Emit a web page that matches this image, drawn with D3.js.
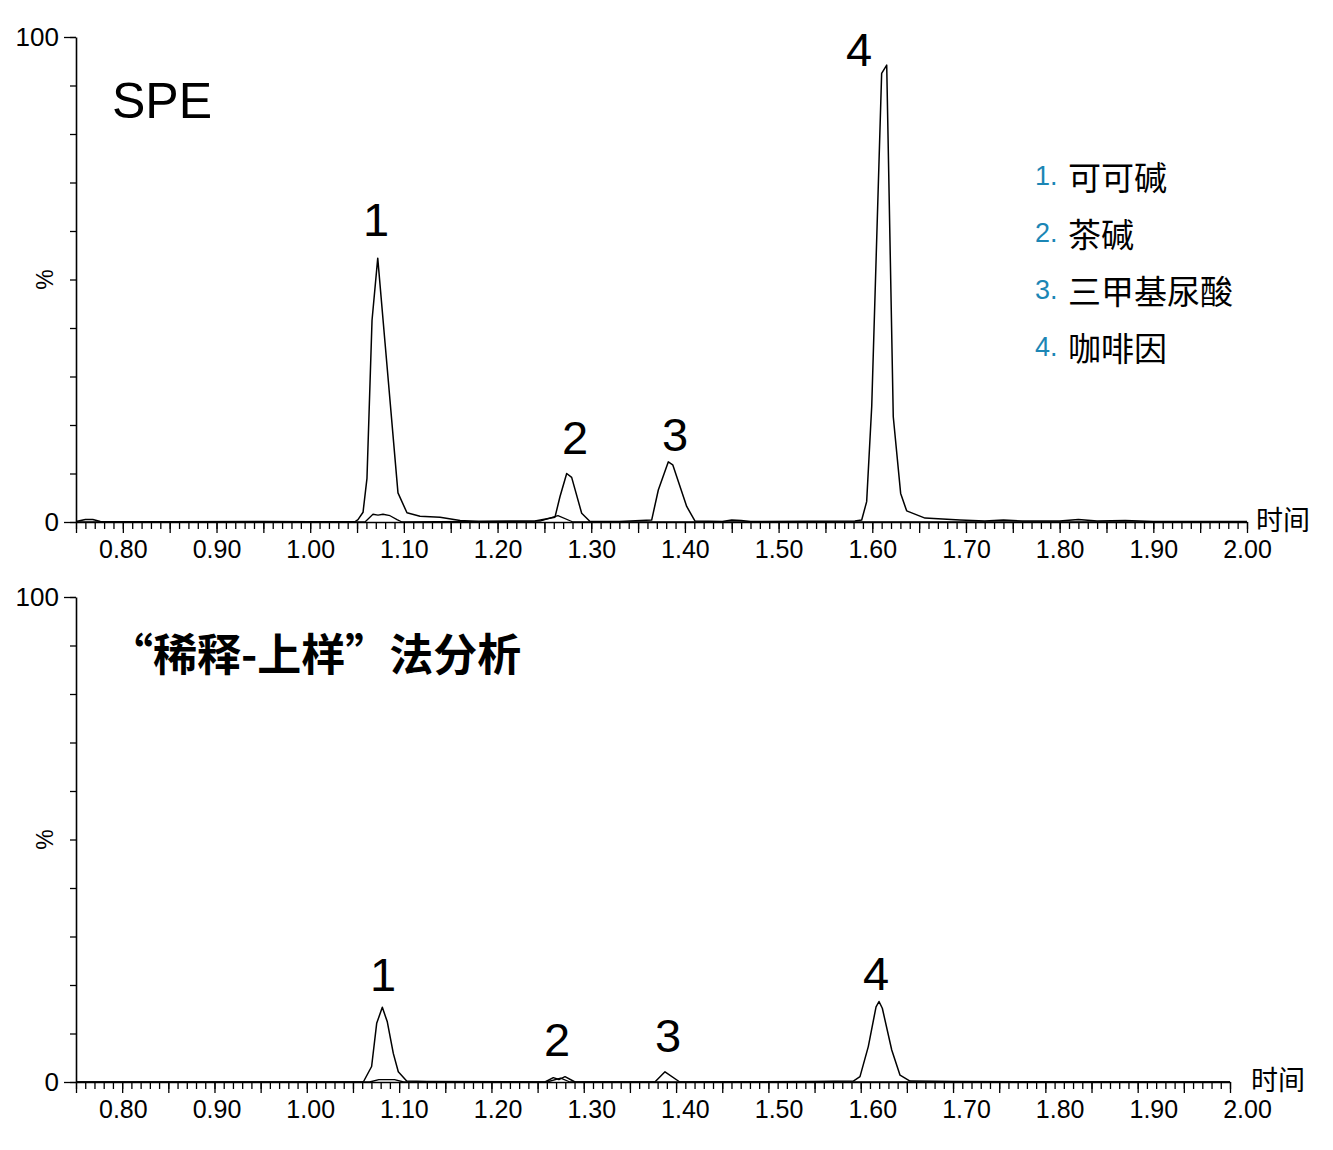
<!DOCTYPE html>
<html><head><meta charset="utf-8">
<script src="https://cdn.jsdelivr.net/npm/d3@7"></script>
<style>
html,body{margin:0;padding:0;background:#fff;}
svg{display:block;}
</style></head>
<body><svg id="c" width="1333" height="1150"></svg>
<script>
// ---------- data ----------
const timeDomain = [0.75, 2.00];
const tickLabelValues = [0.80,0.90,1.00,1.10,1.20,1.30,1.40,1.50,1.60,1.70,1.80,1.90,2.00];
const tickLabels = ["0.80","0.90","1.00","1.10","1.20","1.30","1.40","1.50","1.60","1.70","1.80","1.90","2.00"];
const yTickLabels = ["0","100"];
const yAxisTitle = "%";
const xAxisTitle = "时间";
const panelTitles = ["SPE", "“稀释-上样”法分析"];
const legendNumbers = ["1.","2.","3.","4."];
const legendNames = ["可可碱","茶碱","三甲基尿酸","咖啡因"];
const peakNames = ["1","2","3","4"];

// top panel (SPE): main trace
const topMainTime  = [0.750,0.760,0.768,0.776,0.850,0.950,1.000,1.048,1.0510,1.0564,1.0606,1.0660,1.0721,1.0799,1.0937,1.1033,1.1172,1.1386,1.160,1.180,1.240,1.2613,1.2666,1.2738,1.2791,1.2898,1.2987,1.330,1.3645,1.3716,1.3823,1.3870,1.4019,1.4108,1.440,1.450,1.460,1.470,1.5815,1.5887,1.5940,1.5994,1.6100,1.6154,1.6224,1.6303,1.6367,1.6563,1.6936,1.720,1.740,1.760,1.800,1.820,1.840,1.870,1.900,2.000];
const topMainValue = [0.1,  0.5,  0.5,  0.1,  0.05, 0.1,  0.05, 0.1,  0.5,   2.0,   9.0,   41.6,  54.4,  36.9,  6.0,   1.9,   1.2,   1.0,   0.3,  0.1,  0.2,  1.0,   5.2,   10.0,  9.2,   1.8,   0.1,   0.1,  0.4,   6.6,   12.4,  11.8,  3.2,   0.2,   0.1,  0.4,  0.3,  0.1,  0.2,   0.4,   4.2,   23.8,  92.5,  94.2,  21.7,  5.9,   2.3,   0.8,   0.4,   0.2,  0.4,  0.2,  0.2,  0.5,  0.2,  0.3,  0.1,  0.1];
// top panel: second (minor) trace
const topMinorTime  = [0.750,1.0585,1.0670,1.0724,1.0777,1.0852,1.0927,1.098,1.2453,1.2645,1.2805,2.000];
const topMinorValue = [0,    0,     1.6,   1.4,   1.6,   1.3,   0.5,   0,    0.2,   1.3,   0,     0];
// bottom panel (dilute-and-shoot): main trace
const botMainTime  = [0.750,1.0612,1.0702,1.0757,1.0818,1.0872,1.0937,1.0991,1.1082,1.130,1.258,1.267,1.273,1.2797,1.2905,1.377,1.388,1.404,1.550,1.592,1.5992,1.6082,1.6166,1.6198,1.6234,1.6336,1.6426,1.6534,1.700,2.000];
const botMainValue = [0,    0,     3.2,   12.1,  15.4,  12.4,  5.9,   2.1,   0.2,   0.1,  0,    0.9,  0.5,  1.1,   0,     0,    2.1,  0,    0.1,  0.2,  1.1,   7.3,   15.5,  16.6,  15.2,  6.6,   1.4,   0.2,   0.1,  0];
const botMinorTime  = [0.750,1.068,1.078,1.095,1.105,1.260,1.275,1.285,2.000];
const botMinorValue = [0,    0,    0.5,  0.5,  0,    0,    0.8,  0,    0];

// peak label anchors (time, % level)
const topPeakLabelTime  = [1.0702,1.2827,1.3894,1.5858];
const topPeakLabelLevel = [59.0,14.0,14.6,94.0];
const botPeakLabelTime  = [1.0825,1.2710,1.3912,1.6166];
const botPeakLabelLevel = [18.8,5.4,6.2,19.0];

// ---------- drawing ----------
const svg = d3.select("#c");
const fontLat = '"Liberation Sans", Arial, sans-serif';
const fontCjk = '"Noto Sans CJK SC", sans-serif';

function zip(t, v){ return t.map((d,i)=>({t:d, v:v[i]})); }

function drawPanel(cfg){
  const g = svg.append("g");
  const x = d3.scaleLinear().domain(timeDomain).range([cfg.x0, cfg.x1]);
  const xl = d3.scaleLinear().domain(timeDomain).range([cfg.x0, cfg.labelX1]);
  const y = d3.scaleLinear().domain([0,100]).range([cfg.yBase, cfg.yTop]);

  const minor = d3.range(75, 201).map(d=>d/100);
  const major = d3.range(15, 41).map(d=>d*5/100);
  g.append("g").attr("transform",`translate(0,${cfg.yBase})`)
    .call(d3.axisBottom(x).tickValues(minor).tickSize(7).tickSizeOuter(0).tickFormat(""))
    .call(s=>s.selectAll("line").attr("stroke","#000").attr("stroke-width",1.3))
    .call(s=>s.select(".domain").attr("stroke","#000").attr("stroke-width",1.6));
  g.append("g").attr("transform",`translate(0,${cfg.yBase})`)
    .call(d3.axisBottom(x).tickValues(major).tickSize(11).tickSizeOuter(0).tickFormat(""))
    .call(s=>s.selectAll("line").attr("stroke","#000").attr("stroke-width",1.3))
    .call(s=>s.select(".domain").remove());
  g.append("g").attr("transform",`translate(0,${cfg.yBase})`)
    .call(d3.axisBottom(xl).tickValues(tickLabelValues).tickSize(0).tickPadding(18)
      .tickFormat((d,i)=>tickLabels[i]))
    .call(s=>s.select(".domain").remove())
    .call(s=>s.selectAll("text").attr("font-family",fontLat).attr("font-size",25).attr("fill","#000"));

  g.append("g").attr("transform",`translate(${cfg.x0},0)`)
    .call(d3.axisLeft(y).tickValues(d3.range(0,101,10)).tickSize(6).tickSizeOuter(0).tickFormat(""))
    .call(s=>s.selectAll("line").attr("stroke","#000").attr("stroke-width",1.3))
    .call(s=>s.select(".domain").attr("stroke","#000").attr("stroke-width",1.6));
  g.append("g").attr("transform",`translate(${cfg.x0},0)`)
    .call(d3.axisLeft(y).tickValues([0,100]).tickSize(12).tickPadding(5)
      .tickFormat((d)=> d===0 ? yTickLabels[0] : yTickLabels[1]))
    .call(s=>s.select(".domain").remove())
    .call(s=>s.selectAll("line").attr("stroke","#000").attr("stroke-width",1.3))
    .call(s=>s.selectAll("text").attr("font-family",fontLat).attr("font-size",26).attr("fill","#000"));
  g.append("text").attr("font-family",fontLat).attr("font-size",23)
    .attr("text-anchor","middle").attr("dominant-baseline","central")
    .attr("transform",`translate(${cfg.x0-31},${y(50)}) rotate(-90)`).text(yAxisTitle);

  g.append("text").attr("font-family",fontCjk).attr("font-size",27)
    .attr("x", cfg.titleX).attr("y", cfg.yBase-4).attr("dominant-baseline","central")
    .text(xAxisTitle);

  const line = d3.line().x(d=>x(d.t)).y(d=>y(d.v));
  g.append("path").datum(zip(cfg.minorT, cfg.minorV)).attr("d", line)
    .attr("fill","none").attr("stroke","#000").attr("stroke-width",1.3).attr("stroke-linejoin","round");
  g.append("path").datum(zip(cfg.mainT, cfg.mainV)).attr("d", line)
    .attr("fill","none").attr("stroke","#000").attr("stroke-width",1.5).attr("stroke-linejoin","round");

  g.selectAll("text.pk").data(peakNames).enter().append("text").attr("class","pk")
    .attr("font-family",fontLat).attr("font-size",47).attr("text-anchor","middle")
    .attr("x",(d,i)=>x(cfg.labT[i])).attr("y",(d,i)=>y(cfg.labV[i])).text(d=>d);
  return {g,x,y};
}

const topPanel = drawPanel({x0:76, x1:1247, labelX1:1247, yBase:522, yTop:37, titleX:1256,
  mainT:topMainTime, mainV:topMainValue, minorT:topMinorTime, minorV:topMinorValue,
  labT:topPeakLabelTime, labV:topPeakLabelLevel});
const botPanel = drawPanel({x0:76, x1:1230, labelX1:1247, yBase:1082, yTop:597, titleX:1251,
  mainT:botMainTime, mainV:botMainValue, minorT:botMinorTime, minorV:botMinorValue,
  labT:botPeakLabelTime, labV:botPeakLabelLevel});

svg.append("text").attr("font-family",fontLat).attr("font-size",50)
  .attr("x",112).attr("y",118).text(panelTitles[0]);
svg.append("text").attr("font-family",fontCjk).attr("font-size",44).attr("font-weight",700)
  .attr("x",109).attr("y",671).text(panelTitles[1]);

const leg = svg.append("g");
legendNumbers.forEach((n,i)=>{
  const yy = 176 + i*57;
  leg.append("text").attr("font-family",fontLat).attr("font-size",27).attr("fill","#1b86b5")
    .attr("x",1035).attr("y",yy).attr("dominant-baseline","central").text(n);
  leg.append("text").attr("font-family",fontCjk).attr("font-size",33).attr("fill","#000")
    .attr("x",1068).attr("y",yy).attr("dominant-baseline","central").text(legendNames[i]);
});
</script></body></html>
